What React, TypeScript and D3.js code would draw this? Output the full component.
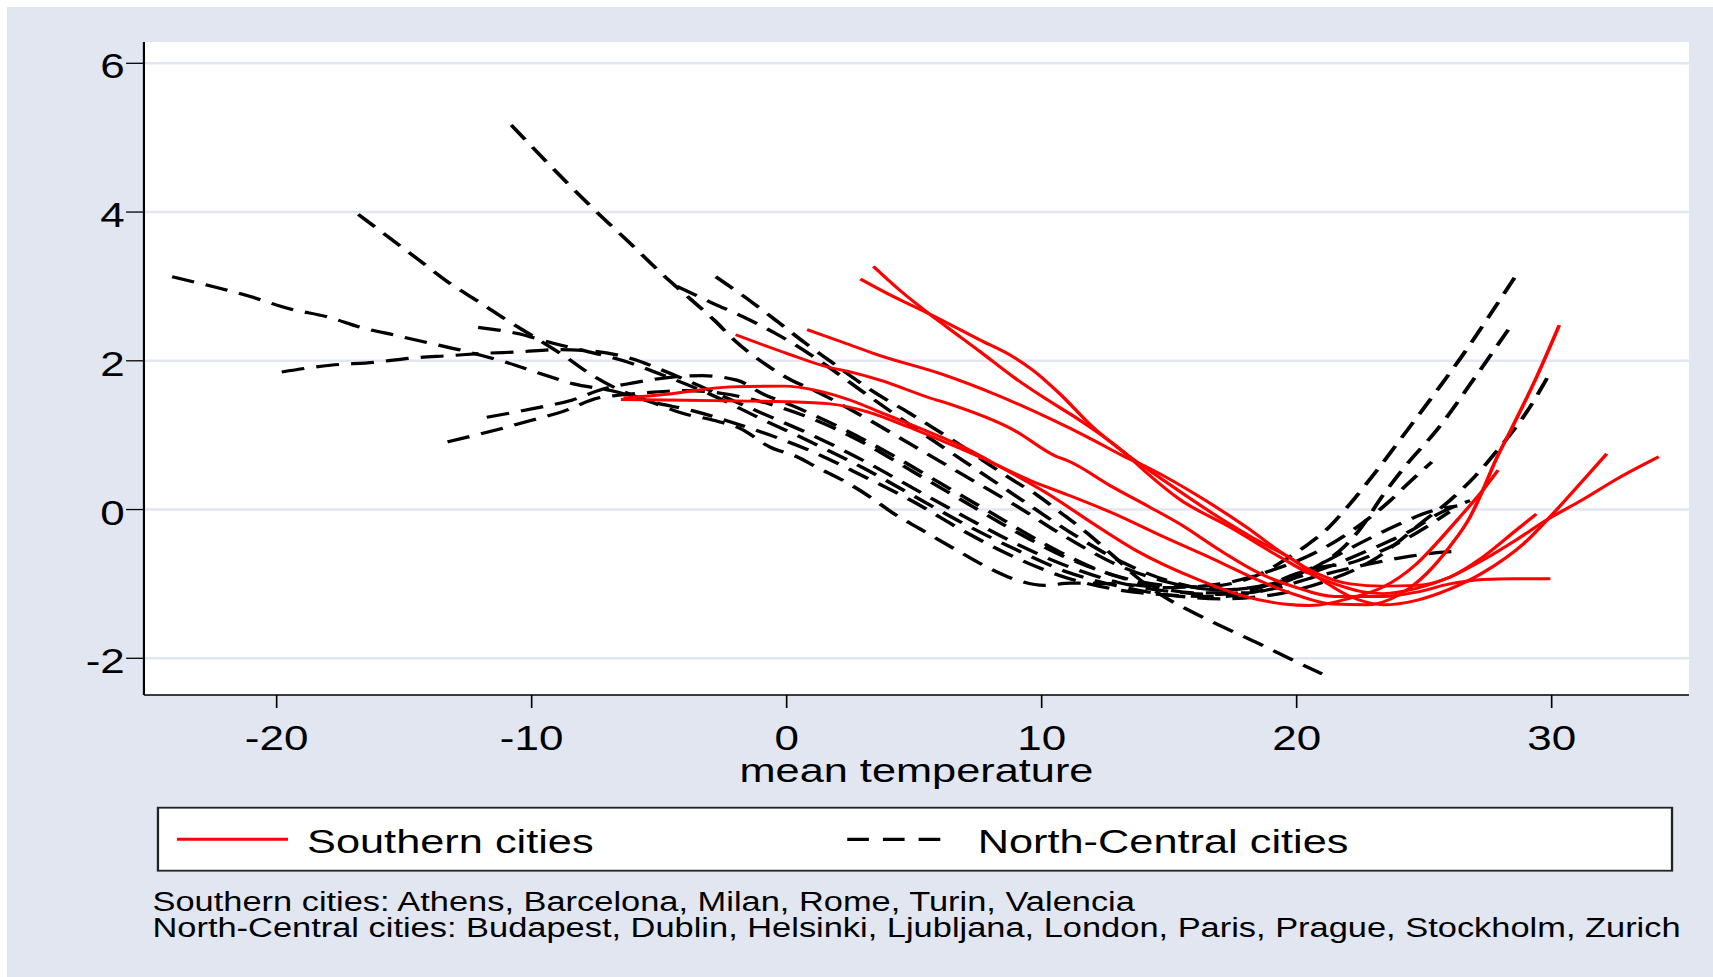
import * as d3 from "d3";

// the graph was drawn narrow and then stretched sideways, so draw in a narrow
// box and let the viewBox widen it
const W = 1706;
const H = 970;
const STRETCH = 1.275;
const VW = W / STRETCH;

const xTicks = [-20, -10, 0, 10, 20, 30];
const yTicks = [-2, 0, 2, 4, 6];

const legendLabels = ["Southern cities", "North-Central cities"];
const noteLines = [
  "Southern cities: Athens, Barcelona, Milan, Rome, Turin, Valencia",
  "North-Central cities: Budapest, Dublin, Helsinki, Ljubljana, London, Paris, Prague, Stockholm, Zurich",
];

// southern cities (solid red) — [mean temperature, effect]
const south1 = [[3.4,3.27],[4.5,2.93],[5.6,2.63],[6.3,2.45],[7.6,2.12],[8.9,1.78],[10.2,1.48],[11.5,1.2],[13.3,0.75],[14.1,0.5],[15.4,0.14],[17.4,-0.24],[19.35,-0.64],[20.5,-0.86],[21.5,-1.0],[22.5,-1.1],[23.4,-1.13],[24.7,-1.06],[26,-0.91],[27.3,-0.68],[28.6,-0.41],[29.9,-0.12],[31.2,0.13],[32.6,0.42],[34.2,0.71]];
const south2 = [[2.89,3.1],[4.2,2.86],[5.6,2.63],[7.58,2.28],[8.9,2.05],[9.67,1.87],[10.7,1.56],[12,1.11],[13.3,0.75],[14.8,0.39],[16.7,-0.05],[18.7,-0.46],[19.7,-0.64],[21,-0.95],[22.1,-1.17],[23.4,-1.28],[24.7,-1.22],[26,-1.07],[27.3,-0.85],[28.9,-0.46],[30.2,0.0],[31.2,0.38],[32.16,0.75]];
const south3 = [[0.8,2.42],[2.2,2.25],[3.66,2.07],[6,1.83],[8.24,1.54],[10.46,1.2],[11.77,0.98],[13.2,0.72],[14.25,0.55],[16.2,0.17],[18,-0.23],[19.5,-0.6],[20.8,-0.86],[22.1,-1.0],[23.4,-1.03],[24.7,-1.02],[26,-0.91],[27.3,-0.64],[28.6,-0.28],[29.4,-0.06]];
const south4 = [[-2,2.35],[0,2.1],[1.57,1.92],[2.49,1.85],[3.66,1.74],[5.62,1.5],[6.28,1.43],[8.9,1.07],[10.6,0.71],[11.0,0.66],[12.8,0.3],[14.25,0.03],[15.4,-0.19],[17,-0.55],[18.5,-0.85],[20,-1.05],[21.5,-1.17],[23.4,-1.17],[24.7,-1.11],[26,-1.0],[27.3,-0.94],[28.5,-0.93],[29.95,-0.93]];
const south5 = [[-6.5,1.48],[-4,1.47],[-2,1.46],[0,1.45],[1.7,1.42],[3.2,1.31],[4.7,1.12],[6.67,0.84],[8,0.64],[9.55,0.39],[11,0.2],[12.8,-0.05],[14.8,-0.37],[16.7,-0.66],[18.5,-0.95],[20,-1.15],[21.4,-1.27],[22.75,-1.28],[24.05,-1.14],[25.1,-0.86],[26,-0.5],[26.8,-0.1],[27.3,0.26],[27.8,0.66],[28.4,1.07],[29.3,1.7],[30.3,2.48]];
const south6 = [[-6.4,1.5],[-4.7,1.55],[-2.2,1.65],[-0.1,1.66],[1.2,1.6],[2.5,1.47],[3.8,1.29],[5.6,1.04],[6.93,0.84],[8.5,0.55],[10.2,0.22],[12.2,-0.23],[13.7,-0.55],[16.2,-0.95],[18,-1.17],[19.5,-1.27],[20.5,-1.29],[22.1,-1.19],[23.4,-1.04],[24.7,-0.73],[25.6,-0.41],[26.4,-0.1],[27.3,0.26],[27.9,0.53]];

// north-central cities (black dashed)
const north1 = [[-24.1,3.13],[-21,2.86],[-19.5,2.7],[-18,2.59],[-16.7,2.45],[-15.3,2.34],[-13.9,2.23],[-12.5,2.12],[-11,1.98],[-9.67,1.83],[-8.36,1.69],[-6.9,1.6],[-5.36,1.45],[-4.05,1.29],[-2.87,1.2],[-1.83,1.09],[-0.65,0.84],[0.4,0.71],[1.18,0.57],[2.22,0.39],[3.27,0.17],[4.18,-0.05],[5.23,-0.26],[6.79,-0.57],[7.84,-0.77],[9.04,-0.95],[10.1,-1.02],[11.14,-0.99],[13,-1.0],[15,-1.05],[17,-1.0],[19,-0.82],[20.9,-0.55],[22.1,-0.3],[23.6,0.1],[24.4,0.36],[25.3,0.64]];
const north2 = [[-19.8,1.85],[-17.9,1.94],[-16.2,1.98],[-14.6,2.04],[-13.2,2.07],[-11.9,2.1],[-10.5,2.12],[-9,2.15],[-7.6,2.13],[-6.1,2.03],[-4.7,1.85],[-3,1.6],[-1,1.3],[1,1.0],[3,0.66],[5,0.28],[7,-0.1],[9,-0.46],[11,-0.76],[13,-0.98],[15,-1.1],[17,-1.14],[19,-1.0],[20,-0.86],[21,-0.77],[22.1,-0.72],[23.1,-0.59],[24.2,-0.41],[25.1,-0.23],[26,-0.03]];
const north3 = [[-16.8,3.97],[-15.6,3.66],[-14.4,3.35],[-13.2,3.04],[-12.15,2.81],[-10.85,2.52],[-9.9,2.32],[-8.7,2.06],[-7.6,1.8],[-6.5,1.6],[-5.5,1.47],[-3.7,1.33],[-1.5,1.1],[1,0.78],[3,0.45],[5,0.1],[7,-0.3],[9,-0.65],[11,-0.92],[13,-1.08],[15,-1.15],[17,-1.17],[19,-1.07],[21,-0.88],[23,-0.72],[24.4,-0.63],[25.5,-0.58],[26.5,-0.56]];
const north4 = [[-10.8,5.17],[-9.2,4.6],[-7.6,4.05],[-6.2,3.6],[-4.77,3.13],[-3.87,2.86],[-2.82,2.54],[-2.06,2.28],[-0.86,1.96],[0.18,1.74],[1.09,1.6],[3,1.25],[5,0.85],[7,0.45],[9,0.05],[11,-0.38],[13,-0.75],[15,-0.98],[17,-1.08],[19,-1.0],[21,-0.72],[22.5,-0.45],[24,-0.2],[25.2,-0.03],[26.3,0.05]];
const north5 = [[-13.3,0.91],[-11.4,1.07],[-10,1.2],[-8.76,1.32],[-7.4,1.5],[-6.5,1.54],[-5.5,1.57],[-4,1.6],[-2.5,1.56],[-1,1.45],[1,1.22],[3,0.9],[5,0.5],[7,0.1],[9,-0.3],[11,-0.65],[13,-0.9],[14.9,-1.02],[16.2,-1.04],[17.5,-0.99],[18.6,-0.86],[19.7,-0.64],[20.4,-0.48],[21.2,-0.26],[22,0.04],[23.2,0.55],[24.3,1.05],[25.5,1.6],[26.6,2.12],[27.7,2.68],[28.7,3.2]];
const north6 = [[-11.76,1.24],[-9.9,1.36],[-8.43,1.47],[-7.2,1.62],[-6.07,1.7],[-4.5,1.78],[-3.3,1.8],[-1.96,1.74],[-0.9,1.55],[0.2,1.4],[2,1.12],[4,0.76],[6,0.36],[8,-0.04],[10,-0.44],[12,-0.78],[14,-1.0],[16,-1.12],[18,-1.12],[19.5,-0.98],[20.7,-0.78],[21.8,-0.52],[22.4,-0.3],[23.4,0.2],[24.3,0.6],[25.5,1.07],[27,1.78],[28.4,2.47]];
const north7 = [[-2.78,3.13],[-1.37,2.79],[-0.33,2.52],[0.72,2.24],[1.77,1.98],[2.49,1.8],[3.66,1.53],[4.8,1.3],[5.6,1.13],[6.7,0.89],[7.7,0.66],[8.9,0.39],[9.8,0.2],[10.7,-0.03],[11.8,-0.32],[12.8,-0.62],[13.7,-0.9],[14.6,-1.13],[15.8,-1.36],[17,-1.56],[18.5,-1.8],[20,-2.05],[21,-2.21]];
const north8 = [[-4.3,3.0],[-2.87,2.77],[-1.7,2.59],[-0.45,2.37],[0.26,2.23],[1.5,1.95],[3,1.58],[5,1.1],[7,0.64],[9,0.18],[11,-0.28],[13,-0.68],[15,-0.96],[17,-1.08],[19,-1.0],[21,-0.8],[23,-0.52],[24.5,-0.28],[25.6,-0.05],[26.8,0.12]];
const north9 = [[-12.1,2.45],[-10.6,2.37],[-9.3,2.25],[-8,2.14],[-6.4,2.0],[-4.8,1.8],[-3,1.55],[-1,1.22],[1,0.9],[3,0.56],[5,0.18],[7,-0.2],[9,-0.54],[11,-0.84],[13,-1.03],[15,-1.15],[17,-1.2],[19,-1.15],[21,-0.98],[23,-0.68],[25,-0.15],[26,0.12],[27,0.45],[28,0.85],[29,1.3],[29.86,1.79]];

const southern = [south1, south2, south3, south4, south5, south6];
const northern = [north1, north2, north3, north4, north5, north6, north7, north8, north9];

const BG = "#e1e6f0";
const GRID = "#e1e6f0";
const RED = "#ff0000";
const FONT = "'Liberation Sans', Arial, Helvetica, sans-serif";
const DASH = "18 9.5";

export default function App() {
  const plot = { left: 107.4, right: 1319.2, top: 35, bottom: 688 };

  const x = d3.scaleLinear().domain([-20, 30]).range([211.5, 1211.5]);
  const y = d3.scaleLinear().domain([-2, 6]).range([651.3, 56.3]);

  const line = d3
    .line<number[]>()
    .x((d) => x(d[0]))
    .y((d) => y(d[1]))
    .curve(d3.curveMonotoneX);

  const redW = 2.9;
  const dashW = 3.2;

  return (
    <>
      <style>{"html,body{overflow:hidden}"}</style>
      <svg
        width={W}
        height={H}
        viewBox={`0 0 ${VW} ${H}`}
        preserveAspectRatio="none"
        style={{ position: "absolute", left: 7, top: 7, display: "block" }}
        fontFamily={FONT}
      >
        <rect x={0} y={0} width={VW} height={H} fill={BG} />
        <rect
          x={plot.left}
          y={plot.top}
          width={plot.right - plot.left}
          height={plot.bottom - plot.top}
          fill="#ffffff"
        />

        {/* grid */}
        {yTicks.map((t) => (
          <line key={"g" + t} x1={plot.left} x2={plot.right} y1={y(t)} y2={y(t)} stroke={GRID} strokeWidth={2.6} />
        ))}

        {/* series */}
        {northern.map((s, i) => (
          <path key={"n" + i} d={line(s) || ""} fill="none" stroke="#000" strokeWidth={dashW} strokeDasharray={DASH} />
        ))}
        {southern.map((s, i) => (
          <path key={"s" + i} d={line(s) || ""} fill="none" stroke={RED} strokeWidth={redW} />
        ))}

        {/* y axis */}
        <line x1={plot.left} x2={plot.left} y1={plot.top} y2={plot.bottom} stroke="#000" strokeWidth={1.7} />
        {yTicks.map((t) => (
          <g key={"y" + t}>
            <line x1={plot.left - 14} x2={plot.left} y1={y(t)} y2={y(t)} stroke="#000" strokeWidth={1.3} />
            <text x={plot.left - 15} y={y(t) + 15} textAnchor="end" fontSize={34.5} fill="#000">
              {t}
            </text>
          </g>
        ))}

        {/* x axis */}
        <line x1={plot.left} x2={plot.right} y1={plot.bottom} y2={plot.bottom} stroke="#000" strokeWidth={1.7} />
        {xTicks.map((t) => (
          <g key={"x" + t}>
            <line x1={x(t)} x2={x(t)} y1={plot.bottom} y2={plot.bottom + 13} stroke="#000" strokeWidth={1.3} />
            <text x={x(t)} y={743} textAnchor="middle" fontSize={34.5} fill="#000">
              {t}
            </text>
          </g>
        ))}
        <text x={(plot.left + plot.right) / 2} y={775} textAnchor="middle" fontSize={34} fill="#000">
          mean temperature
        </text>

        {/* legend */}
        <rect x={118.4} y={800.7} width={1305.9 - 118.4} height={63} fill="#fff" stroke="#222" strokeWidth={1.8} />
        <line x1={133.3} x2={220.4} y1={832.3} y2={832.3} stroke={RED} strokeWidth={redW} />
        <text x={235.3} y={845.7} fontSize={34} fill="#000">
          {legendLabels[0]}
        </text>
        <line x1={659} x2={737} y1={832.3} y2={832.3} stroke="#000" strokeWidth={dashW} strokeDasharray="17 11" />
        <text x={761.3} y={845.7} fontSize={34} fill="#000">
          {legendLabels[1]}
        </text>

        {/* note */}
        {noteLines.map((t, i) => (
          <text key={"note" + i} x={114.1} y={903.7 + i * 26.6} fontSize={27} fill="#000">
            {t}
          </text>
        ))}
      </svg>
    </>
  );
}
